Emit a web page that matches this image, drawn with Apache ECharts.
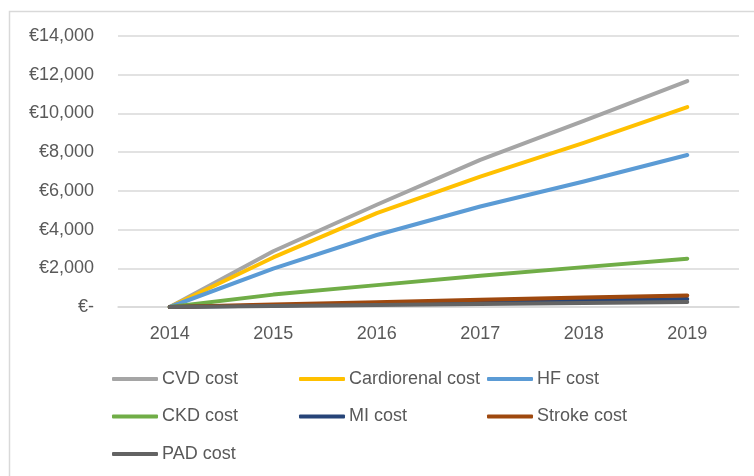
<!DOCTYPE html>
<html>
<head>
<meta charset="utf-8">
<script src="https://cdn.jsdelivr.net/npm/echarts@6/dist/echarts.min.js"></script>
<style>
html,body{margin:0;padding:0;background:#fff;}
#chart{width:754px;height:476px;}
</style>
</head>
<body>
<div id="chart"></div>
<script>
var years = ['2014','2015','2016','2017','2018','2019'];
var cvdCost = [0, 2880, 5280, 7600, 9620, 11670];
var cardiorenalCost = [0, 2560, 4850, 6740, 8480, 10330];
var hfCost = [0, 1980, 3720, 5190, 6480, 7850];
var ckdCost = [0, 640, 1130, 1610, 2060, 2495];
var miCost = [0, 80, 170, 250, 330, 410];
var strokeCost = [0, 125, 250, 370, 490, 600];
var padCost = [0, 55, 105, 160, 210, 260];
var seriesNames = ['CVD cost','Cardiorenal cost','HF cost','CKD cost','MI cost','Stroke cost','PAD cost'];
var seriesData = [cvdCost, cardiorenalCost, hfCost, ckdCost, miCost, strokeCost, padCost];
var colors = ['#A5A5A5','#FFC000','#5B9BD5','#70AD47','#264478','#9E480E','#636363'];

var FONT = 'Liberation Sans';
function fmt(v){
  if (v === 0) return '€-';
  return '€' + v.toString().replace(/\B(?=(\d{3})+(?!\d))/g, ',');
}

var chart = echarts.init(document.getElementById('chart'));
var legendBase = {
  orient: 'vertical',
  top: 369,
  padding: 0,
  itemWidth: 46,
  itemHeight: 4,
  itemGap: 17.5,
  icon: 'roundRect',
  textStyle: {color: '#595959', fontSize: 18, fontFamily: FONT, lineHeight: 20, padding: [0, 0, 0, -1]},
  selectedMode: false
};
chart.setOption({
  animation: false,
  color: colors,
  graphic: [{
    type: 'rect',
    shape: {x: 9.5, y: 11.5, width: 760, height: 480},
    style: {fill: 'none', stroke: '#d9d9d9', lineWidth: 1.5},
    z: -10
  }],
  grid: {left: 118, right: 15, top: 36, bottom: 169},
  legend: [
    Object.assign({}, legendBase, {left: 112, data: [seriesNames[0], seriesNames[3], seriesNames[6]]}),
    Object.assign({}, legendBase, {left: 299, data: [seriesNames[1], seriesNames[4]]}),
    Object.assign({}, legendBase, {left: 487, data: [seriesNames[2], seriesNames[5]]})
  ],
  xAxis: {
    type: 'category',
    data: years,
    boundaryGap: true,
    axisLine: {lineStyle: {color: '#d9d9d9', width: 1.5}},
    axisTick: {show: false},
    axisLabel: {color: '#595959', fontSize: 18, fontFamily: FONT, margin: 18}
  },
  yAxis: {
    type: 'value',
    min: 0,
    max: 14000,
    interval: 2000,
    axisLine: {show: false},
    axisTick: {show: false},
    splitLine: {lineStyle: {color: '#d9d9d9', width: 1.5}},
    axisLabel: {color: '#595959', fontSize: 18, fontFamily: FONT, margin: 24, formatter: fmt}
  },
  series: seriesNames.map(function(n, i){
    return {
      name: n,
      type: 'line',
      data: seriesData[i],
      symbol: 'none',
      lineStyle: {width: 4, color: colors[i], cap: 'round', join: 'round'},
      itemStyle: {color: colors[i]}
    };
  })
});
</script>
</body>
</html>
